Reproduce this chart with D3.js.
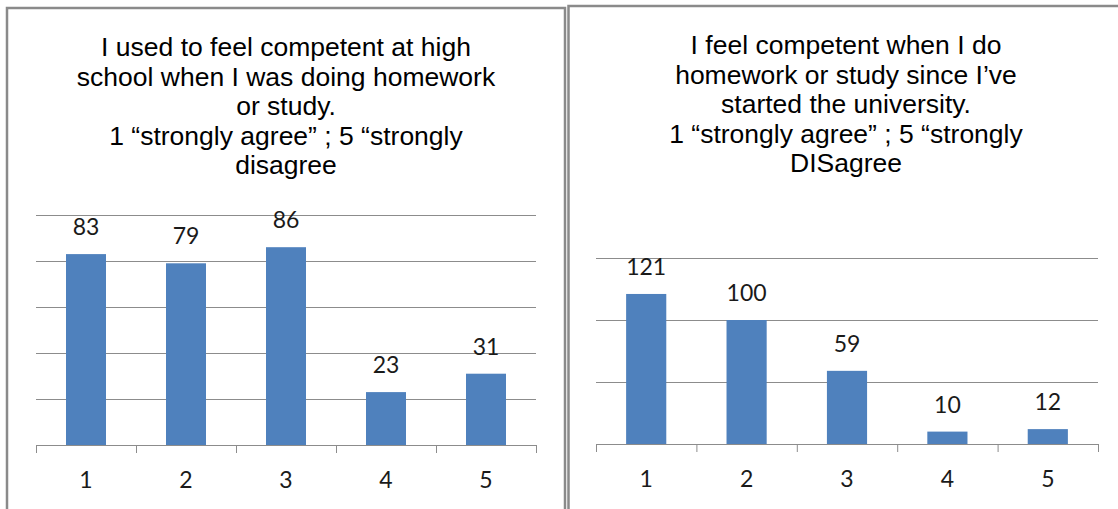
<!DOCTYPE html>
<html>
<head>
<meta charset="utf-8">
<script src="https://cdn.jsdelivr.net/npm/d3@7"></script>
<style>
  html, body { margin: 0; padding: 0; background: #fff; }
  svg { display: block; }
</style>
</head>
<body>
<svg id="chart" width="1118" height="509"></svg>
<script>
const categories = ["1", "2", "3", "4", "5"];
const leftValues = [83, 79, 86, 23, 31];
const rightValues = [121, 100, 59, 10, 12];
const leftTicks = [0, 20, 40, 60, 80, 100];
const rightTicks = [0, 50, 100, 150];
const leftTitle = [
  "I used to feel competent at high",
  "school when I was doing homework",
  "or study.",
  "1 \u201cstrongly agree\u201d ; 5 \u201cstrongly",
  "disagree"
];
const rightTitle = [
  "I feel competent when I do",
  "homework or study since I\u2019ve",
  "started the university.",
  "1 \u201cstrongly agree\u201d ; 5 \u201cstrongly",
  "DISagree"
];

const svg = d3.select("#chart");
const barColor = "#4f81bd";
const gridColor = "#8c8c8c";

function drawPanel(cfg) {
  const g = svg.append("g");
  // frame
  g.append("rect")
    .attr("x", cfg.frame[0]).attr("y", cfg.frame[1])
    .attr("width", cfg.frame[2]).attr("height", cfg.frame[3])
    .attr("fill", "none").attr("stroke", "#8a8a8a").attr("stroke-width", 2.5);

  // title
  const t = g.append("text")
    .attr("text-anchor", "middle")
    .attr("font-family", "'Liberation Sans', Arial, sans-serif")
    .attr("font-size", 26.5)
    .attr("fill", "#000");
  cfg.title.forEach((line, i) => {
    t.append("tspan").attr("x", cfg.titleX).attr("y", cfg.titleY + i * 29.5).text(line);
  });

  const x = d3.scaleBand().domain(categories).range([cfg.x0, cfg.x1]).paddingInner(0.6).paddingOuter(0.3);
  const y = d3.scaleLinear().domain([0, d3.max(cfg.ticks)]).range([cfg.yBase, cfg.yTop]);

  // gridlines
  const grid = g.append("g")
    .attr("transform", `translate(${cfg.x0},0)`)
    .call(d3.axisLeft(y).tickValues(cfg.ticks).tickSize(-(cfg.x1 - cfg.x0)).tickFormat(""));
  grid.select(".domain").remove();
  grid.selectAll(".tick line").attr("stroke", gridColor).attr("stroke-width", 1);

  // bars
  g.selectAll("rect.bar").data(cfg.values).enter().append("rect")
    .attr("class", "bar")
    .attr("x", (d, i) => x(categories[i]))
    .attr("y", d => y(d))
    .attr("width", x.bandwidth())
    .attr("height", d => y(0) - y(d))
    .attr("fill", barColor);

  // x axis with boundary ticks
  const xb = d3.scaleLinear().domain([0, categories.length]).range([cfg.x0, cfg.x1]);
  const ax = g.append("g")
    .attr("transform", `translate(0,${cfg.yBase})`)
    .call(d3.axisBottom(xb).tickValues(d3.range(0, categories.length + 1)).tickSize(8).tickSizeOuter(0).tickFormat(""));
  ax.select(".domain").attr("stroke", gridColor);
  ax.selectAll(".tick line").attr("stroke", gridColor);

  // category labels
  const lab = g.append("g")
    .attr("transform", `translate(0,${cfg.yBase})`)
    .call(d3.axisBottom(x).tickSize(0).tickPadding(0));
  lab.select(".domain").remove();
  lab.selectAll(".tick text")
    .attr("dy", 0).attr("y", 43)
    .attr("font-family", "Lato, 'Open Sans', sans-serif")
    .attr("font-size", 23)
    .attr("fill", "#1a1a1a");

  // value labels
  g.selectAll("text.val").data(cfg.values).enter().append("text")
    .attr("class", "val")
    .attr("x", (d, i) => x(categories[i]) + x.bandwidth() / 2)
    .attr("y", d => y(d) - 19)
    .attr("text-anchor", "middle")
    .attr("font-family", "Lato, 'Open Sans', sans-serif")
    .attr("font-size", 23)
    .attr("fill", "#1a1a1a")
    .text(d => d);
}

drawPanel({
  frame: [7, 8, 558, 520],
  title: leftTitle, titleX: 286, titleY: 56,
  x0: 36, x1: 536, yBase: 445, yTop: 215,
  ticks: leftTicks, values: leftValues
});

drawPanel({
  frame: [568.5, 6, 560, 520],
  title: rightTitle, titleX: 846, titleY: 54,
  x0: 596, x1: 1098, yBase: 444, yTop: 258,
  ticks: rightTicks, values: rightValues
});
</script>
</body>
</html>
